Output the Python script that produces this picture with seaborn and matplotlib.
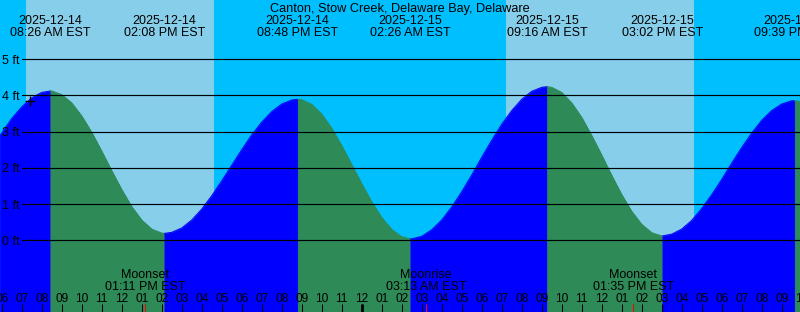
import numpy as np
import pandas as pd
import matplotlib
matplotlib.use("Agg")
import matplotlib.pyplot as plt
import matplotlib.transforms as mtransforms
import seaborn as sns

# ---------------- data ----------------
title = "Canton, Stow Creek, Delaware Bay, Delaware"

# high / low tide extremes (EST) and their heights (ft)
extreme_dates = ["2025-12-14", "2025-12-14", "2025-12-14", "2025-12-15",
                 "2025-12-15", "2025-12-15", "2025-12-15"]
extreme_times = ["08:26 AM", "02:08 PM", "08:48 PM", "02:26 AM",
                 "09:16 AM", "03:02 PM", "09:39 PM"]
extreme_heights = [4.12, 0.19, 3.89, 0.04, 4.24, 0.12, 3.85]

# tide height every half hour
# (hours since 2025-12-14 00:00 EST)
curve_hours = [5.9] + [6 + 0.5 * i for i in range(81)]
curve_heights = [2.87,
                 2.96, 3.36, 3.68, 3.93, 4.08, 4.12, 4.02, 3.79, 3.43, 2.98,
                 2.46, 1.92, 1.40, 0.93, 0.56, 0.31, 0.20, 0.22, 0.34, 0.56,
                 0.86, 1.23, 1.64, 2.07, 2.50, 2.91, 3.26, 3.55, 3.76, 3.87,
                 3.88, 3.75, 3.48, 3.09, 2.61, 2.09, 1.56, 1.06, 0.63, 0.30,
                 0.10, 0.04, 0.11, 0.29, 0.56, 0.92, 1.34, 1.80, 2.29, 2.76,
                 3.20, 3.58, 3.89, 4.11, 4.22, 4.22, 4.08, 3.79, 3.39, 2.89,
                 2.35, 1.79, 1.26, 0.80, 0.44, 0.21, 0.12, 0.17, 0.31, 0.55,
                 0.88, 1.26, 1.68, 2.13, 2.56, 2.96, 3.31, 3.58, 3.76, 3.85,
                 3.82]

# sunrise / sunset (day = between a sunrise and the next sunset)
sun_events = ["2025-12-14 07:13 AM", "2025-12-14 04:36 PM",
              "2025-12-15 07:13 AM", "2025-12-15 04:37 PM"]

moon_events = ["Moonset", "Moonrise", "Moonset"]
moon_dates = ["2025-12-14", "2025-12-15", "2025-12-15"]
moon_times = ["01:11 PM", "03:13 AM", "01:35 PM"]

now_time = "2025-12-14 07:25 AM"
now_height = 3.85

level_ticks = [0, 1, 2, 3, 4, 5]
level_labels = ["0 ft", "1 ft", "2 ft", "3 ft", "4 ft", "5 ft"]

hour_ticks = list(range(6, 47))
hour_labels = ["06", "07", "08", "09", "10", "11", "12", "01", "02", "03",
               "04", "05", "06", "07", "08", "09", "10", "11", "12", "01",
               "02", "03", "04", "05", "06", "07", "08", "09", "10", "11",
               "12", "01", "02", "03", "04", "05", "06", "07", "08", "09",
               "10"]
midnight_hours = [24]

# ---------------- helpers ----------------
BASE = pd.Timestamp("2025-12-14 00:00")


def to_hours(stamp):
    t = pd.to_datetime(stamp, format="%Y-%m-%d %I:%M %p")
    return (t - BASE) / pd.Timedelta(hours=1)


ext_hours = [to_hours(d + " " + t) for d, t in zip(extreme_dates, extreme_times)]
sun_hours = [to_hours(s) for s in sun_events]
moon_hours = [to_hours(d + " " + t) for d, t in zip(moon_dates, moon_times)]
now_hour = to_hours(now_time)

NIGHT = "#00BFFF"
DAY = "#87CEEB"
RISE = "#0000FF"
FALL = "#2E8B57"

W, H = 800, 312
XMIN, XMAX = 5.915, 45.915
YMIN, YMAX = -1.978, 6.629

sns.set_style("white")
plt.rcParams["font.family"] = ["Liberation Sans", "DejaVu Sans"]

fig = plt.figure(figsize=(W / 100, H / 100), dpi=100)
ax = fig.add_axes([0, 0, 1, 1])
ax.set_axis_off()
trans = mtransforms.blended_transform_factory(ax.transData, ax.transAxes)


def fy(px):
    """pixel row (from top) -> axes fraction"""
    return 1 - px / H


# background: night / day
ax.axvspan(XMIN - 1, XMAX + 1, color=NIGHT, lw=0, zorder=0)
for a, b in zip(sun_hours[0::2], sun_hours[1::2]):
    ax.axvspan(a, b, color=DAY, lw=0, zorder=0.5)

# tide curve: blue while rising, green while falling
df = pd.DataFrame({"hour": list(curve_hours) + list(ext_hours),
                   "height": list(curve_heights) + list(extreme_heights)})
df = df.sort_values("hour").drop_duplicates("hour").reset_index(drop=True)
bounds = [df.hour.min()] + ext_hours + [df.hour.max()]
for a, b in zip(bounds[:-1], bounds[1:]):
    seg = df[(df.hour >= a) & (df.hour <= b)]
    rising = seg.height.iloc[-1] > seg.height.iloc[0]
    col = RISE if rising else FALL
    ax.fill_between(seg.hour, YMIN - 2, seg.height, color=col,
                    edgecolor=col, lw=0.4, zorder=1)
    sns.lineplot(data=seg, x="hour", y="height", color=col, lw=0.7,
                 ax=ax, legend=False, zorder=1.1)

# level lines and labels
lvl_text_tr = mtransforms.offset_copy(ax.transData, fig=fig, y=-4.6, units="dots")
lvl_text_tr = mtransforms.blended_transform_factory(ax.transAxes, lvl_text_tr)
for lvl, lab in zip(level_ticks, level_labels):
    ax.axhline(lvl, xmin=21.7 / W, xmax=1, color="black", lw=0.85, zorder=3)
    ax.text(2.2 / W, lvl, lab, transform=lvl_text_tr, ha="left",
            va="baseline", fontsize=9.0, color="black", zorder=4)

# current time marker
sns.scatterplot(x=[now_hour], y=[now_height], marker="+", s=55,
                color="black", linewidth=1.0, ax=ax, zorder=5, legend=False)

# title and extreme labels
ax.text(0.5, fy(11.6), title, transform=ax.transAxes, ha="center",
        va="baseline", fontsize=9.2, color="black", zorder=4)
for h, d, t in zip(ext_hours, extreme_dates, extreme_times):
    ax.text(h, fy(24), d, transform=trans, ha="center", va="baseline",
            fontsize=9.0, color="black", zorder=4)
    ax.text(h, fy(36), t + " EST", transform=trans, ha="center",
            va="baseline", fontsize=9.0, color="black", zorder=4)

# moon events
for h, name, t in zip(moon_hours, moon_events, moon_times):
    ax.text(h, fy(278.3), name, transform=trans, ha="center", va="baseline",
            fontsize=9.0, color="black", zorder=4)
    ax.text(h, fy(290), t + " EST", transform=trans, ha="center",
            va="baseline", fontsize=9.0, color="black", zorder=4)

# hour ticks and labels
tick_len = 8 / H
ax.vlines(hour_ticks, 0, tick_len, transform=trans, color="black",
          lw=0.75, zorder=4)
ax.vlines(midnight_hours, 0, tick_len, transform=trans, color="black",
          lw=2.0, zorder=4)
ax.vlines(moon_hours, 0, tick_len, transform=trans, color="red",
          lw=0.75, zorder=4.5)
for h, lab in zip(hour_ticks, hour_labels):
    ax.text(h, fy(301.7), lab, transform=trans, ha="center", va="baseline",
            fontsize=8.6, color="black", zorder=4)

ax.set_xlim(XMIN, XMAX)
ax.set_ylim(YMIN, YMAX)
fig.savefig("out.png", dpi=100)
